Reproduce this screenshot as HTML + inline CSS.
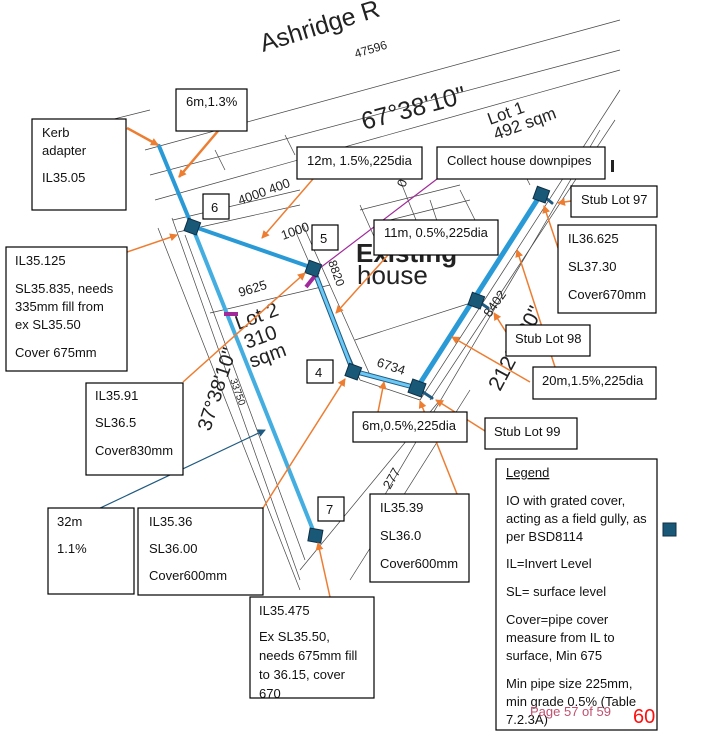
<!DOCTYPE html>
<html><head><meta charset="utf-8"><style>
html,body{margin:0;padding:0;background:#fff;}
svg{display:block;font-family:"Liberation Sans",sans-serif;}
.b{fill:#fff;stroke:#000;stroke-width:1.2}
.t{font-size:13px;fill:#111}
.g{stroke:#444;stroke-width:0.7;fill:none}
.o{stroke:#ed7d31;stroke-width:1.5;fill:none;marker-end:url(#ao)}
.d{font-family:"Liberation Sans",sans-serif;fill:#222}
</style></head><body>
<svg width="725" height="754" viewBox="0 0 725 754">
<defs>
<marker id="ao" markerWidth="8" markerHeight="8" refX="7" refY="4" orient="auto" markerUnits="userSpaceOnUse"><path d="M0,0 L8,4 L0,8 z" fill="#ed7d31"/></marker>
<marker id="ab" markerWidth="8" markerHeight="8" refX="7" refY="4" orient="auto" markerUnits="userSpaceOnUse"><path d="M0,0 L8,4 L0,8 z" fill="#1f5a80"/></marker>
</defs>

<g class="g">
<line x1="145" y1="150" x2="620" y2="20"/>
<line x1="150" y1="175" x2="620" y2="50"/>
<line x1="155" y1="200" x2="620" y2="70"/>
<line x1="70" y1="130" x2="150" y2="110"/>
<line x1="173" y1="220" x2="300" y2="190"/>
<line x1="178" y1="232" x2="300" y2="205"/>
<line x1="172" y1="218" x2="300" y2="580"/>
<line x1="158" y1="228" x2="300" y2="590"/>
<line x1="185" y1="235" x2="305" y2="560"/>
<line x1="295" y1="230" x2="360" y2="380"/>
<line x1="303" y1="225" x2="370" y2="375"/>
<line x1="360" y1="380" x2="420" y2="400"/>
<line x1="350" y1="370" x2="417" y2="390"/>
<line x1="420" y1="400" x2="620" y2="90"/>
<line x1="430" y1="400" x2="615" y2="120"/>
<line x1="370" y1="520" x2="600" y2="130"/>
<line x1="350" y1="580" x2="470" y2="390"/>
<line x1="300" y1="570" x2="440" y2="400"/>
<line x1="210" y1="313" x2="330" y2="285"/>
<line x1="355" y1="340" x2="480" y2="300"/>
<line x1="215" y1="150" x2="225" y2="170"/>
<line x1="285" y1="135" x2="295" y2="155"/>
<line x1="360" y1="210" x2="460" y2="185"/>
<line x1="390" y1="220" x2="470" y2="200"/>
<line x1="430" y1="200" x2="440" y2="230"/>
<line x1="460" y1="190" x2="480" y2="230"/>
<line x1="360" y1="205" x2="380" y2="250"/>
<line x1="400" y1="180" x2="420" y2="230"/>
<line x1="520" y1="165" x2="530" y2="185"/>
</g>

<text class="d" font-size="25" transform="translate(263,52) rotate(-17)">Ashridge R</text>
<text class="d" font-size="12" transform="translate(356,58) rotate(-17)">47596</text>
<text class="d" font-size="12" transform="translate(232,130) rotate(-17)">00</text>
<text class="d" font-size="25" transform="translate(364,130) rotate(-15)">67°38'10"</text>
<text class="d" font-size="17" transform="translate(490,125) rotate(-20)">Lot 1</text>
<text class="d" font-size="17" transform="translate(496,140) rotate(-20)">492 sqm</text>
<text class="d" font-size="13" transform="translate(240,205) rotate(-20)">4000 400</text>
<text class="d" font-size="13" transform="translate(283,240) rotate(-20)">1000</text>
<text class="d" font-size="26" font-weight="bold" fill="#333" transform="translate(356,262)">Existing</text>
<text class="d" font-size="26" transform="translate(357,284)">house</text>
<text class="d" font-size="12" transform="translate(328,262) rotate(70)">8820</text>
<text class="d" font-size="13" transform="translate(240,297) rotate(-17)">9625</text>
<text class="d" font-size="20" transform="translate(238,330) rotate(-20)">Lot 2</text>
<text class="d" font-size="20" transform="translate(247,349) rotate(-20)">310</text>
<text class="d" font-size="20" transform="translate(252,368) rotate(-20)">sqm</text>
<text class="d" font-size="20" transform="translate(210,432) rotate(-72)">37°38'10"</text>
<text class="d" font-size="10" transform="translate(230,380) rotate(70)">33750</text>
<text class="d" font-size="13" transform="translate(376,366) rotate(18)">6734</text>
<text class="d" font-size="13" transform="translate(490,318) rotate(-55)">8402</text>
<text class="d" font-size="21" transform="translate(500,392) rotate(-62)">212°4 20"</text>
<text class="d" font-size="13" transform="translate(390,490) rotate(-60)">277</text>
<text class="d" font-size="13" transform="translate(405,188) rotate(-70)">0</text>
<rect x="611" y="160" width="3" height="12" fill="#222"/>

<g fill="none" stroke-linecap="round">
<line x1="159" y1="146" x2="192" y2="226" stroke="#2a9ad6" stroke-width="4"/>
<line x1="192" y1="226" x2="315" y2="535" stroke="#44aee0" stroke-width="4"/>
<line x1="192" y1="226" x2="313" y2="268" stroke="#2a9ad6" stroke-width="4"/>
<polyline points="313,268 353,371 417,388" stroke="#1f5a80" stroke-width="5"/>
<polyline points="313,268 353,371 417,388" stroke="#6cc8f4" stroke-width="3"/>
<line x1="417" y1="388" x2="541" y2="194" stroke="#2a9ad6" stroke-width="5"/>
<line x1="541" y1="194" x2="552" y2="203" stroke="#1f5a80" stroke-width="3"/>
<line x1="476" y1="300" x2="488" y2="308" stroke="#1f5a80" stroke-width="3"/>
<line x1="417" y1="388" x2="432" y2="398" stroke="#1f5a80" stroke-width="3"/>
</g>
<line x1="306" y1="287" x2="318" y2="272" stroke="#a02a9a" stroke-width="4"/>
<line x1="224" y1="314" x2="238" y2="314" stroke="#a02a9a" stroke-width="4"/>
<line x1="437" y1="179" x2="320" y2="268" stroke="#a02a9a" stroke-width="1.2"/>

<g fill="#1a5878" stroke="#0d2f45" stroke-width="1">
<rect x="186" y="220" width="13" height="13" transform="rotate(20 192 226)"/>
<rect x="307" y="262" width="13" height="13" transform="rotate(20 313 268)"/>
<rect x="347" y="365" width="13" height="13" transform="rotate(20 353 371)"/>
<rect x="410" y="381" width="14" height="14" transform="rotate(20 417 388)"/>
<rect x="470" y="294" width="13" height="13" transform="rotate(20 476 300)"/>
<rect x="535" y="188" width="13" height="13" transform="rotate(20 541 194)"/>
<rect x="309" y="529" width="13" height="13" transform="rotate(10 315 535)"/>
<rect x="663" y="523" width="13" height="13"/>
</g>

<line class="o" x1="127" y1="128" x2="158" y2="145" style="stroke-width:2.5"/>
<line class="o" x1="218" y1="131" x2="179" y2="177" style="stroke-width:2.5"/>
<line class="o" x1="313" y1="179" x2="262" y2="238"/>
<line class="o" x1="127" y1="252" x2="177" y2="235"/>
<line class="o" x1="183" y1="382" x2="305" y2="273"/>
<line class="o" x1="388" y1="255" x2="336" y2="313"/>
<line class="o" x1="558" y1="248" x2="544" y2="206"/>
<line class="o" x1="571" y1="201" x2="558" y2="203"/>
<line class="o" x1="530" y1="382" x2="452" y2="337"/>
<line class="o" x1="555" y1="367" x2="517" y2="250"/>
<line class="o" x1="506" y1="332" x2="494" y2="313"/>
<line class="o" x1="485" y1="431" x2="436" y2="400"/>
<line class="o" x1="378" y1="412" x2="384" y2="382"/>
<line class="o" x1="263" y1="508" x2="345" y2="379"/>
<line class="o" x1="457" y1="494" x2="420" y2="401"/>
<line class="o" x1="330" y1="597" x2="318" y2="543"/>
<line x1="96" y1="510" x2="265" y2="430" stroke="#1f5a80" stroke-width="1.2" marker-end="url(#ab)"/>

<rect class="b" x="176" y="89" width="71" height="42"/><text class="t" x="186" y="106">6m,1.3%</text>
<rect class="b" x="32" y="119" width="94" height="91"/>
<text class="t" x="42" y="137">Kerb</text><text class="t" x="42" y="155">adapter</text><text class="t" x="42" y="182">IL35.05</text>
<rect class="b" x="297" y="147" width="125" height="32"/><text class="t" x="307" y="165">12m, 1.5%,225dia</text>
<rect class="b" x="437" y="147" width="168" height="32"/><text class="t" x="447" y="165">Collect house downpipes</text>
<rect class="b" x="571" y="186" width="86" height="31"/><text class="t" x="581" y="204">Stub Lot 97</text>
<rect class="b" x="203" y="194" width="26" height="25"/><text class="t" x="211" y="212">6</text>
<rect class="b" x="312" y="225" width="26" height="25"/><text class="t" x="320" y="243">5</text>
<rect class="b" x="374" y="220" width="124" height="35"/><text class="t" x="384" y="237">11m, 0.5%,225dia</text>
<rect class="b" x="558" y="225" width="98" height="88"/>
<text class="t" x="568" y="243">IL36.625</text><text class="t" x="568" y="271">SL37.30</text><text class="t" x="568" y="299">Cover670mm</text>
<rect class="b" x="6" y="247" width="121" height="124"/>
<text class="t" x="15" y="265">IL35.125</text><text class="t" x="15" y="293">SL35.835, needs</text><text class="t" x="15" y="311">335mm fill from</text><text class="t" x="15" y="329">ex SL35.50</text><text class="t" x="15" y="357">Cover 675mm</text>
<rect class="b" x="506" y="325" width="84" height="31"/><text class="t" x="515" y="343">Stub Lot 98</text>
<rect class="b" x="307" y="360" width="26" height="23"/><text class="t" x="315" y="377">4</text>
<rect class="b" x="533" y="367" width="123" height="32"/><text class="t" x="542" y="385">20m,1.5%,225dia</text>
<rect class="b" x="86" y="383" width="97" height="92"/>
<text class="t" x="95" y="400">IL35.91</text><text class="t" x="95" y="427">SL36.5</text><text class="t" x="95" y="455">Cover830mm</text>
<rect class="b" x="353" y="412" width="114" height="30"/><text class="t" x="362" y="430">6m,0.5%,225dia</text>
<rect class="b" x="485" y="418" width="92" height="31"/><text class="t" x="494" y="436">Stub Lot 99</text>
<rect class="b" x="318" y="497" width="26" height="24"/><text class="t" x="326" y="514">7</text>
<rect class="b" x="48" y="508" width="86" height="86"/>
<text class="t" x="57" y="526">32m</text><text class="t" x="57" y="553">1.1%</text>
<rect class="b" x="138" y="508" width="125" height="87"/>
<text class="t" x="149" y="526">IL35.36</text><text class="t" x="149" y="553">SL36.00</text><text class="t" x="149" y="580">Cover600mm</text>
<rect class="b" x="370" y="494" width="99" height="88"/>
<text class="t" x="380" y="512">IL35.39</text><text class="t" x="380" y="540">SL36.0</text><text class="t" x="380" y="568">Cover600mm</text>
<rect class="b" x="250" y="597" width="124" height="101"/>
<text class="t" x="259" y="615">IL35.475</text><text class="t" x="259" y="641">Ex SL35.50,</text><text class="t" x="259" y="660">needs 675mm fill</text><text class="t" x="259" y="679">to 36.15, cover</text><text class="t" x="259" y="698">670</text>
<rect class="b" x="496" y="459" width="161" height="271"/>
<text class="t" x="506" y="477" text-decoration="underline">Legend</text>
<text class="t" x="506" y="505">IO with grated cover,</text>
<text class="t" x="506" y="523">acting as a field gully, as</text>
<text class="t" x="506" y="541">per BSD8114</text>
<text class="t" x="506" y="568">IL=Invert Level</text>
<text class="t" x="506" y="596">SL= surface level</text>
<text class="t" x="506" y="624">Cover=pipe cover</text>
<text class="t" x="506" y="642">measure from IL to</text>
<text class="t" x="506" y="660">surface, Min 675</text>
<text class="t" x="506" y="688">Min pipe size 225mm,</text>
<text class="t" x="506" y="706">min grade 0.5% (Table</text>
<text class="t" x="506" y="724">7.2.3A)</text>
<text x="530" y="716" font-size="13" fill="#c05070">Page 57 of 59</text>
<text x="633" y="723" font-size="20" fill="#ff1010">60</text>
</svg>
</body></html>
